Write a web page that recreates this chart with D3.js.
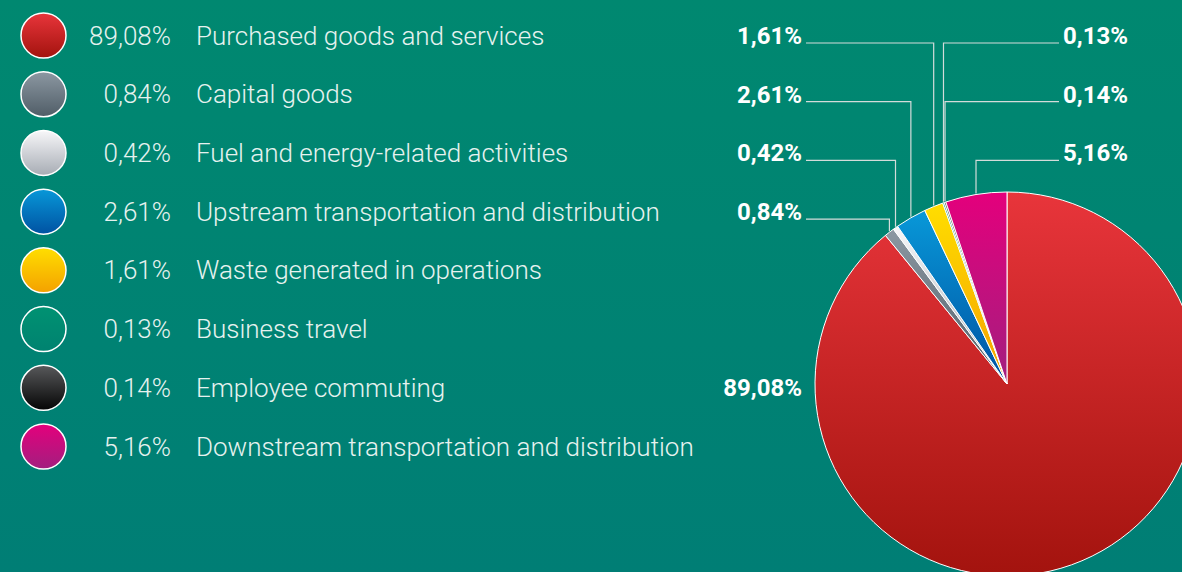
<!DOCTYPE html>
<html>
<meta charset="utf-8">
<head>
    <script src="https://d3js.org/d3.v7.min.js"></script>
    <style>
        body { margin: 0; overflow: hidden; }
    </style>
</head>
<body>
    <div id="chart"></div>
</body>

<script>
    // data
    const categories = [
        "Purchased goods and services",
        "Capital goods",
        "Fuel and energy-related activities",
        "Upstream transportation and distribution",
        "Waste generated in operations",
        "Business travel",
        "Employee commuting",
        "Downstream transportation and distribution"
    ];
    const values = [89.08, 0.84, 0.42, 2.61, 1.61, 0.13, 0.14, 5.16];

    // callout placement: which side of the pie and which row
    const labelSide = ["center", "left", "left", "left", "left", "right", "right", "right"];
    const labelRow = [null, 3, 2, 1, 0, 0, 1, 2];

    // colours (top / bottom of each gradient)
    const colorTop = ["#e8353b", "#8c98a2", "#f7f7f9", "#0898d8", "#ffde00", "#009272", "#58595b", "#e4007c"];
    const colorBottom = ["#a3130e", "#505d67", "#a7acb4", "#0052a2", "#f4a100", "#008270", "#050505", "#a21f7f"];

    const fmt = v => d3.format(".2f")(v).replace(".", ",") + "%";

    const W = 1182, H = 572;
    const svg = d3.select("#chart")
        .append("svg")
            .attr("width", W)
            .attr("height", H);

    const defs = svg.append("defs");

    // background
    const bg = defs.append("linearGradient")
        .attr("id", "bg").attr("x1", 0).attr("y1", 0).attr("x2", 0).attr("y2", 1);
    bg.append("stop").attr("offset", 0).attr("stop-color", "#008870");
    bg.append("stop").attr("offset", 1).attr("stop-color", "#007e75");
    svg.append("rect").attr("width", W).attr("height", H).attr("fill", "url(#bg)");

    // one vertical gradient per category
    categories.forEach((c, i) => {
        const g = defs.append("linearGradient")
            .attr("id", "grad" + i).attr("x1", 0).attr("y1", 0).attr("x2", 0).attr("y2", 1);
        g.append("stop").attr("offset", 0).attr("stop-color", colorTop[i]);
        g.append("stop").attr("offset", 1).attr("stop-color", colorBottom[i]);
    });

    // rows shared by legend and callouts
    const row = d3.scaleLinear().domain([0, 7]).range([35.5, 446.5]);

    // legend
    const legend = svg.append("g")
        .selectAll("g")
        .data(categories)
        .join("g")
            .attr("transform", (d, i) => `translate(0, ${row(i)})`);

    legend.append("circle")
        .attr("cx", 43.5)
        .attr("r", 22.5)
        .attr("fill", (d, i) => `url(#grad${i})`)
        .attr("stroke", "#ffffff")
        .attr("stroke-width", 1.5);

    legend.append("text")
        .attr("x", 171)
        .attr("dy", "0.35em")
        .attr("text-anchor", "end")
        .style("font-family", "Roboto, sans-serif")
        .style("font-weight", 300)
        .style("font-size", "26px")
        .attr("fill", "#e6f2ef")
        .text((d, i) => fmt(values[i]));

    legend.append("text")
        .attr("x", 196)
        .attr("dy", "0.35em")
        .style("font-family", "Roboto, sans-serif")
        .style("font-weight", 300)
        .style("font-size", "26px")
        .attr("fill", "#e6f2ef")
        .text(d => d);

    // pie
    const cx = 1007, cy = 384, radius = 192;
    const pie = d3.pie().sort(null).value(d => d)(values);
    const arc = d3.arc().innerRadius(0).outerRadius(radius);

    const pieG = svg.append("g").attr("transform", `translate(${cx}, ${cy})`);

    pieG.selectAll("path")
        .data(pie)
        .join("path")
            .attr("d", arc)
            .attr("fill", (d, i) => `url(#grad${i})`)
            .attr("stroke", "#ffffff")
            .attr("stroke-width", 1)
            .attr("stroke-linejoin", "round");

    // callouts
    const leftX = 802, rightX = 1063;
    const callouts = svg.append("g");

    pie.forEach((d, i) => {
        const side = labelSide[i];
        const mid = (d.startAngle + d.endAngle) / 2;
        const px = cx + radius * Math.sin(mid);
        const py = cy - radius * Math.cos(mid);

        let tx, ty, anchor;
        if (side === "center") {
            tx = leftX; ty = cy + 4; anchor = "end";
        } else {
            ty = row(labelRow[i]);
            const ly = ty + 7.5;
            if (side === "left") {
                tx = leftX; anchor = "end";
                callouts.append("polyline")
                    .attr("points", `${leftX + 4},${ly} ${px},${ly} ${px},${py - 1}`)
                    .attr("fill", "none")
                    .attr("stroke", "#d3dcda")
                    .attr("stroke-width", 1.2);
            } else {
                tx = rightX; anchor = "start";
                callouts.append("polyline")
                    .attr("points", `${rightX - 4},${ly} ${px},${ly} ${px},${py - 1}`)
                    .attr("fill", "none")
                    .attr("stroke", "#d3dcda")
                    .attr("stroke-width", 1.2);
            }
        }

        callouts.append("text")
            .attr("x", tx)
            .attr("y", ty)
            .attr("dy", "0.35em")
            .attr("text-anchor", anchor)
            .style("font-family", "Roboto, sans-serif")
            .style("font-weight", 700)
            .style("font-size", "24px")
            .attr("fill", "#ffffff")
            .text(fmt(values[i]));
    });
</script>
</html>
